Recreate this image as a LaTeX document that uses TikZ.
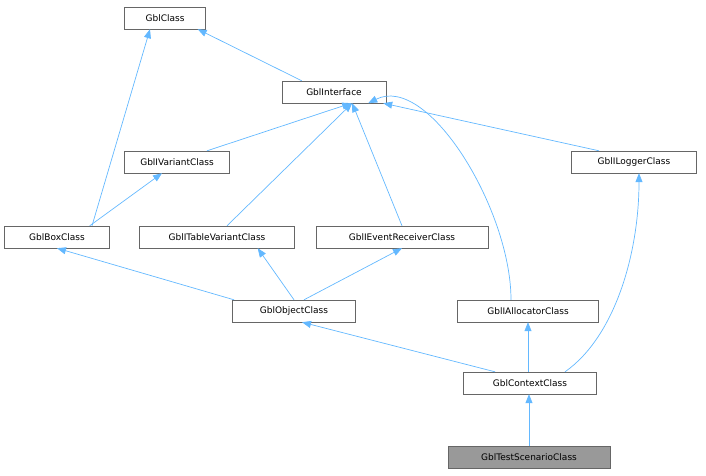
\documentclass[tikz,border=0pt]{standalone}
\usepackage{fontspec}
\setmainfont{DejaVu Sans}
\usetikzlibrary{arrows.meta}
\definecolor{edgeblue}{HTML}{63B8FF}
\definecolor{boxgray}{HTML}{666666}
\definecolor{curgray}{HTML}{999999}
\tikzset{
  cls/.style={draw=boxgray,fill=white,inner sep=0pt,minimum height=22pt,font=\fontsize{9}{11}\selectfont},
  inh/.style={draw=edgeblue,line width=0.7pt,-{Triangle[length=9pt,width=7pt]}},
}
\begin{document}
\begin{tikzpicture}[x=1pt,y=-1pt]
\useasboundingbox (0,0) rectangle (706,476);

\node[cls,minimum width=81pt] (gcl) at (165,18) {GblClass};
\node[cls,minimum width=104pt] (gif) at (334,92) {GblInterface};
\node[cls,minimum width=105pt] (gvar) at (177,162) {GblIVariantClass};
\node[cls,minimum width=125pt] (glog) at (634,162) {GblILoggerClass};
\node[cls,minimum width=105pt] (gbox) at (57,237) {GblBoxClass};
\node[cls,minimum width=155pt] (gtab) at (217,237) {GblITableVariantClass};
\node[cls,minimum width=172pt] (gevt) at (402,237) {GblIEventReceiverClass};
\node[cls,minimum width=123pt] (gobj) at (294,311) {GblObjectClass};
\node[cls,minimum width=141pt] (galloc) at (528,311) {GblIAllocatorClass};
\node[cls,minimum width=133pt] (gctx) at (530,383) {GblContextClass};
\node[cls,minimum width=162pt,fill=curgray] (gtest) at (529,457) {GblTestScenarioClass};

\draw[inh] ([xshift=20pt]gif.north west) -- ([xshift=-8pt]gcl.south east);
\draw[inh] ([xshift=35pt]gbox.north) -- ([xshift=-15pt]gcl.south);
\draw[inh] ([xshift=30pt]gvar.north) -- ([xshift=-35pt]gif.south east);
\draw[inh] ([xshift=-20pt]gbox.north east) -- ([xshift=-15pt]gvar.south);
\draw[inh] ([xshift=10pt]gtab.north) -- ([xshift=-34pt]gif.south east);
\draw[inh] (gevt.north) -- ([xshift=-34pt]gif.south east);
\draw[inh] ([xshift=-35pt]glog.north) -- ([xshift=-3pt]gif.south east);
\draw[inh] ([xshift=-17pt]galloc.north) .. controls +(0,-90) and +(60,-30) .. ([xshift=-18pt]gif.south east);
\draw[inh] ([xshift=-60pt]gobj.north) -- (gbox.south);
\draw[inh] (gobj.north) -- ([xshift=-37pt]gtab.south east);
\draw[inh] ([xshift=10pt]gobj.north) -- (gevt.south);
\draw[inh] ([xshift=-35pt]gctx.north) -- ([xshift=8pt]gobj.south);
\draw[inh] ([xshift=-2pt]gctx.north) -- (galloc.south);
\draw[inh] ([xshift=35pt]gctx.north) .. controls +(50,-35) and +(0,80) .. ([xshift=5pt]glog.south);
\draw[inh] (gtest.north) -- ([xshift=-1pt]gctx.south);
\end{tikzpicture}
\end{document}
